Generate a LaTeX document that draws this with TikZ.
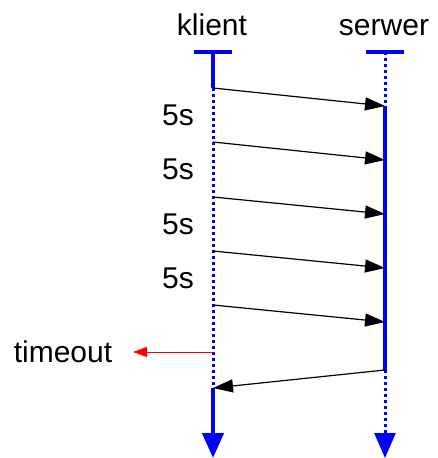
\documentclass[tikz,border=0pt]{standalone}
\usepackage{fontspec}
\setmainfont{Liberation Sans}
\usetikzlibrary{arrows.meta}

\begin{document}
\begin{tikzpicture}[x=1pt,y=-1pt,
	lbl/.style={font=\fontsize{30}{35}\selectfont,anchor=base,inner sep=0pt},
	busy/.style={blue,line width=4.5pt},
	idle/.style={blue,line width=3pt,dash pattern=on 3pt off 3pt},
	lifecap/.style={blue,line width=3.5pt},
	msg/.style={-{Triangle[length=20pt,width=13pt]},line width=1.2pt},
	down/.style={-{Triangle[length=25pt,width=21pt]}}]
	\useasboundingbox (0,0) rectangle (437,458);
	\node[lbl] (K) at (212,35) {klient};
	\node[lbl] (S) at (384,35) {serwer};
	%
	\coordinate (k0) at (213,52);
	\coordinate (k1) at (213,88);
	\coordinate (k2) at (213,142);
	\coordinate (k3) at (213,197);
	\coordinate (k4) at (213,251);
	\coordinate (k5) at (213,305);
	\coordinate (kt) at (213,352);
	\coordinate (kr) at (213,388);
	\coordinate (kz) at (213,458);
	\coordinate (s0) at (385,52);
	\coordinate (s1) at (385,106);
	\coordinate (s2) at (385,160);
	\coordinate (s3) at (385,214);
	\coordinate (s4) at (385,268);
	\coordinate (s5) at (385,322);
	\coordinate (sr) at (385,370);
	\coordinate (sz) at (385,458);
	\coordinate (to) at (133,352);
	%
	\draw[lifecap] ([xshift=-19pt]k0) -- ([xshift=19pt]k0);
	\draw[lifecap] ([xshift=-19pt]s0) -- ([xshift=19pt]s0);
	\draw[busy] (k0) -- (k1);
	\draw[idle] (k1) -- (kr);
	\draw[busy,down] (kr) -- (kz);
	\draw[idle] (s0) -- (s1);
	\draw[busy] (s1) -- (sr);
	\draw[idle,down] (sr) -- (sz);
	%
	\foreach \i in {1,...,5}
		\draw[msg] (k\i) -- (s\i);
	\draw[msg] (sr) -- (kr);
	%
	\foreach \y/\n in {125/a,179/b,234/c,288/d}
		\node[lbl] (t\n) at (178,\y) {5s};
	%
	\node[lbl] (T) at (63,362) {timeout};
	\draw[red,line width=1pt,-{Triangle[length=14pt,width=10pt]}] (kt) -- (to);
\end{tikzpicture}
\end{document}
